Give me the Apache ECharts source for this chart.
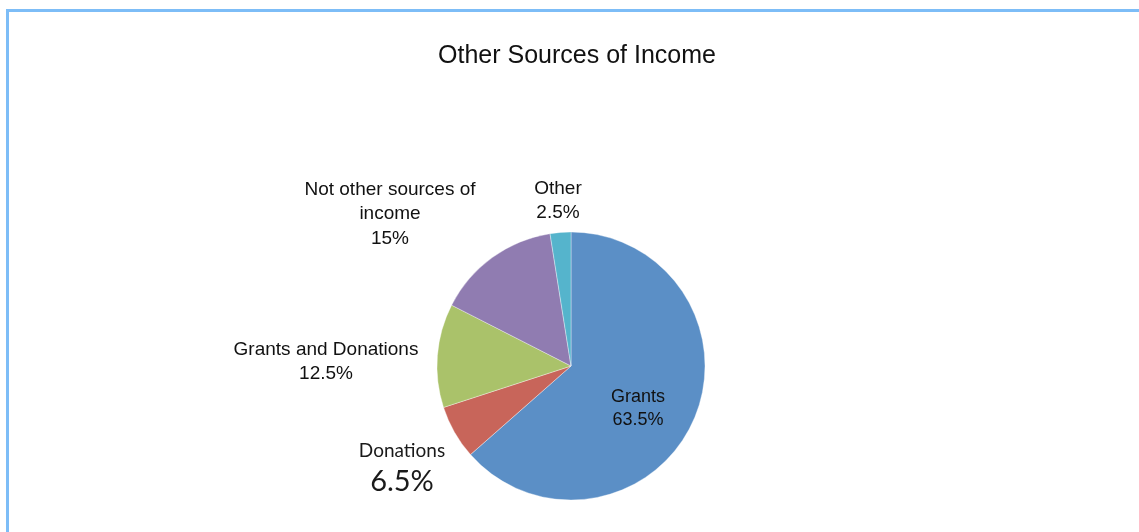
<!DOCTYPE html>
<html>
<head>
<meta charset="utf-8">
<script src="https://cdn.jsdelivr.net/npm/echarts@6/dist/echarts.min.js"></script>
<style>
html,body{margin:0;padding:0;background:#fff;}
#chart{width:1139px;height:532px;}
</style>
</head>
<body>
<div id="chart"></div>
<script>
var titleText = 'Other Sources of Income';
var categories = ['Grants', 'Donations', 'Grants and Donations', 'Not other sources of income', 'Other'];
var labelNames = ['Grants', 'Donations', 'Grants and Donations', 'Not other sources of\nincome', 'Other'];
var values = [63.5, 6.5, 12.5, 15, 2.5];
var valueLabels = ['63.5%', '6.5%', '12.5%', '15%', '2.5%'];
var colors = ['#5b8fc6', '#c8655a', '#aac26a', '#907cb1', '#55b4cc'];

var labelPos = [[638, 409], [402, 466], [326, 362], [390, 214], [558, 201]];

var chart = echarts.init(document.getElementById('chart'), null, {renderer: 'canvas'});
var data = categories.map(function (c, i) {
  var d = {
    name: c,
    value: values[i],
    itemStyle: {color: colors[i]},
    label: {
      formatter: labelNames[i] + '\n' + valueLabels[i]
    }
  };
  if (i === 0) {
    d.label.fontSize = 18;
    d.label.lineHeight = 23;
  }
  if (i === 1) {
    d.label = {
      formatter: '{a|' + labelNames[i] + '}\n{b|' + valueLabels[i] + '}',
      rich: {
        a: {fontFamily: 'Lato', fontSize: 19, color: '#1a1a1a', lineHeight: 31, align: 'center'},
        b: {fontFamily: 'Lato', fontSize: 29, color: '#1a1a1a', lineHeight: 31, align: 'center'}
      }
    };
  }
  return d;
});

chart.setOption({
  backgroundColor: '#ffffff',
  animation: false,
  title: {
    text: titleText,
    left: 572,
    top: 39,
    textAlign: 'center',
    textStyle: {fontFamily: 'Liberation Sans', fontSize: 25, fontWeight: 'normal', color: '#111'}
  },
  graphic: [{
    type: 'polyline',
    shape: {points: [[7.5, 540], [7.5, 10.5], [1150, 10.5]]},
    style: {stroke: '#7dbdf7', lineWidth: 3, fill: null},
    silent: true
  }],
  series: [{
    type: 'pie',
    center: [571, 366],
    radius: 134,
    startAngle: 90,
    clockwise: true,
    data: data,
    itemStyle: {borderColor: 'rgba(255,255,255,0.6)', borderWidth: 0.6},
    label: {
      show: true,
      position: 'inside',
      fontFamily: 'Liberation Sans',
      fontSize: 19,
      lineHeight: 24.5,
      color: '#111',
      align: 'center'
    },
    labelLine: {show: false},
    labelLayout: function (params) {
      var p = labelPos[params.dataIndex];
      return {x: p[0], y: p[1], align: 'center', verticalAlign: 'middle'};
    },
    emphasis: {disabled: true}
  }]
});
</script>
</body>
</html>
